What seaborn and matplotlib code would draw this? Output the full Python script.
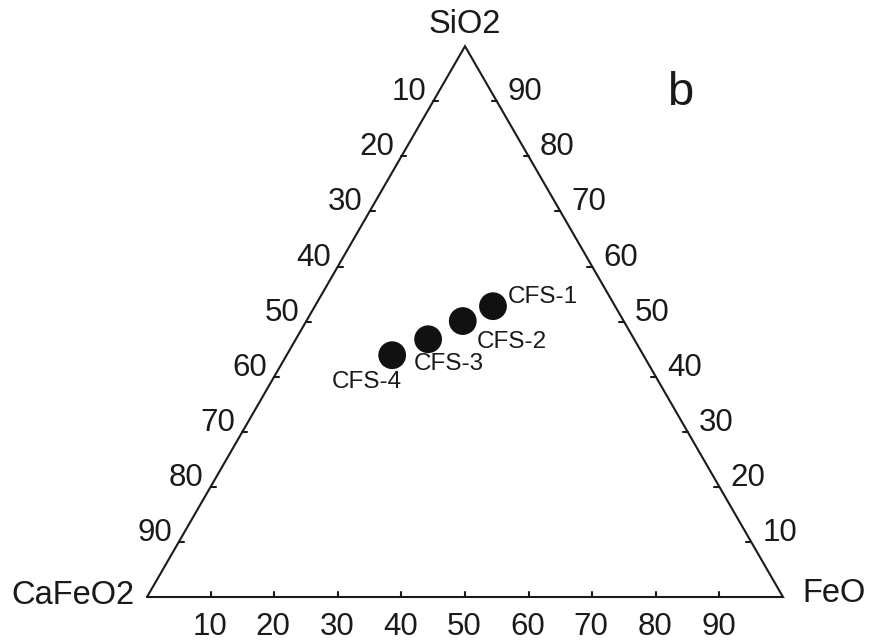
import numpy as np
import pandas as pd
import matplotlib
matplotlib.use("Agg")
import matplotlib.pyplot as plt
import seaborn as sns

# Sample compositions (wt %)
samples = ["CFS-1", "CFS-2", "CFS-3", "CFS-4"]
sio2 = [52.8, 50.1, 46.8, 43.9]
feo = [28.0, 24.6, 20.8, 16.6]
cafeo2 = [19.2, 25.3, 32.4, 39.5]

tick_values = [10, 20, 30, 40, 50, 60, 70, 80, 90]
vertex_names = ["SiO2", "CaFeO2", "FeO"]

sns.set_theme(style="white")
plt.rcParams["font.family"] = ["Liberation Sans", "DejaVu Sans"]

INK = "#1a1a1a"
H = np.sqrt(3) / 2


def to_xy(s, f, c):
    """Ternary (SiO2, FeO, CaFeO2) -> cartesian; CaFeO2 at (0,0), FeO at (1,0), SiO2 at apex."""
    s, f, c = (np.asarray(v, float) for v in (s, f, c))
    tot = s + f + c
    s, f = s / tot, f / tot
    return f + 0.5 * s, H * s


df = pd.DataFrame({"sample": samples, "SiO2": sio2, "FeO": feo, "CaFeO2": cafeo2})
df["x"], df["y"] = to_xy(df["SiO2"], df["FeO"], df["CaFeO2"])

fig = plt.figure(figsize=(8.7, 6.42), dpi=100)
ax = fig.add_axes([0, 0, 1, 1])
scale = 636.0
ax.set_xlim(-147 / scale, 723 / scale)
ax.set_ylim(-45 / scale, 597 / scale)
ax.set_axis_off()

# Triangle frame
tri_x = [0, 1, 0.5, 0]
tri_y = [0, 0, H, 0]
ax.plot(tri_x, tri_y, color=INK, lw=1.5, solid_joinstyle="miter", zorder=1)

tl = 5 / scale
fs_tick = 22.5
for v in tick_values:
    t = v / 100
    # bottom edge: FeO
    bx, by = t, 0.0
    ax.plot([bx, bx], [by, by + tl], color=INK, lw=1.5)
    ax.annotate(str(v), (bx, by), xytext=(-1, -30), textcoords="offset pixels",
                ha="center", va="center", fontsize=fs_tick, color=INK)
    # left edge: CaFeO2 (0 at apex, 100 at lower-left)
    lx, ly = 0.5 - 0.5 * t, H * (1 - t)
    ax.plot([lx, lx + tl], [ly, ly], color=INK, lw=1.5)
    ax.annotate(str(v), (lx, ly), xytext=(-7, 9), textcoords="offset pixels",
                ha="right", va="center", fontsize=fs_tick, color=INK)
    # right edge: SiO2 (100 at apex, 0 at lower-right)
    rx, ry = 0.5 + 0.5 * t, H * (1 - t)
    ax.plot([rx, rx - tl], [ry, ry], color=INK, lw=1.5)
    ax.annotate(str(100 - v), (rx, ry), xytext=(11, 9), textcoords="offset pixels",
                ha="left", va="center", fontsize=fs_tick, color=INK)

# Vertex labels
fs_vert = 23.5
ax.annotate(vertex_names[0], (0.5, H), xytext=(0, 22), textcoords="offset pixels",
            ha="center", va="center", fontsize=fs_vert, color=INK)
ax.annotate(vertex_names[1], (0, 0), xytext=(-12, 1), textcoords="offset pixels",
            ha="right", va="center", fontsize=fs_vert, color=INK)
ax.annotate(vertex_names[2], (1, 0), xytext=(19, 4), textcoords="offset pixels",
            ha="left", va="center", fontsize=fs_vert, color=INK)

# Samples
sns.scatterplot(data=df, x="x", y="y", s=400, color="#111111", edgecolor="none",
                legend=False, ax=ax, zorder=3)

label_offsets = {
    "CFS-1": ((15, 9), "left"),
    "CFS-2": ((14, -21), "left"),
    "CFS-3": ((-14, -25), "left"),
    "CFS-4": ((-25, -27), "center"),
}
for _, row in df.iterrows():
    (dx, dy), ha = label_offsets[row["sample"]]
    ax.annotate(row["sample"], (row["x"], row["y"]), xytext=(dx, dy),
                textcoords="offset pixels", ha=ha, va="center",
                fontsize=17.5, color=INK)

# Panel letter
ax.text(680 / scale - 147 / scale, (597 - 93) / scale, "b", ha="center", va="center",
        fontsize=34, color=INK)

fig.savefig("out.png", dpi=100)
